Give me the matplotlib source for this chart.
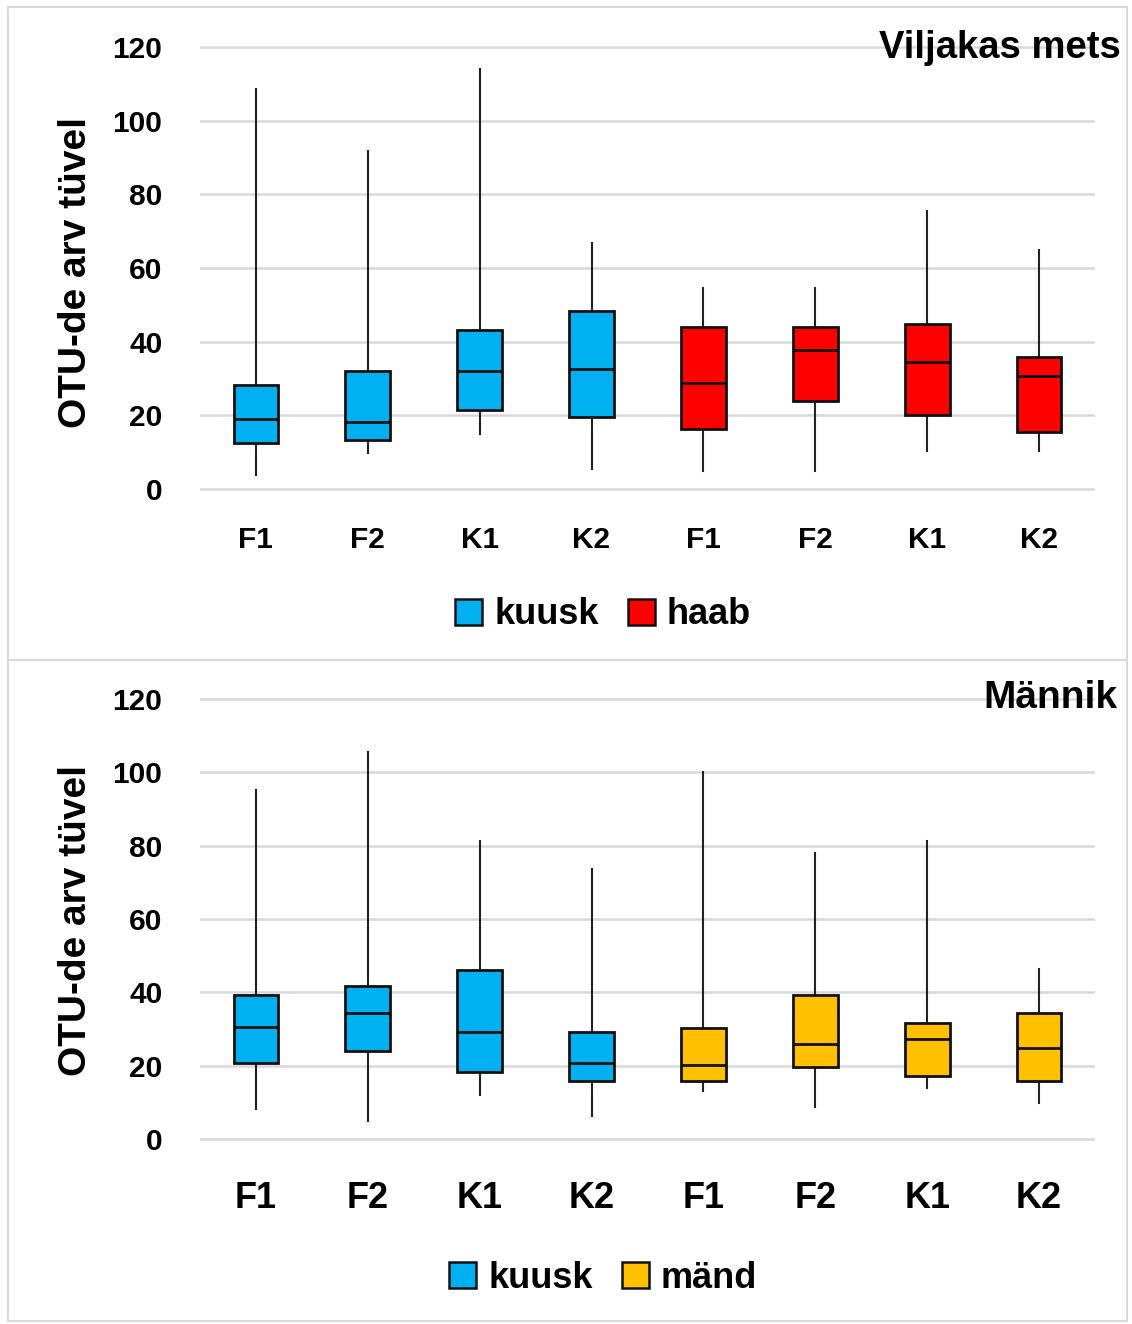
import matplotlib
matplotlib.use("Agg")
import matplotlib.pyplot as plt
from matplotlib.patches import Patch, Rectangle

# ---------------- data ----------------
categories = ["F1", "F2", "K1", "K2", "F1", "F2", "K1", "K2"]

# Top panel: Viljakas mets (kuusk: first 4, haab: last 4)
top_whislo = [3.7, 9.8, 14.8, 5.3, 4.8, 4.8, 10.4, 10.4]
top_q1     = [12.4, 13.2, 21.4, 19.5, 16.3, 23.8, 20.0, 15.6]
top_med    = [18.9, 18.1, 32.1, 32.7, 28.9, 37.7, 34.6, 30.8]
top_q3     = [28.2, 32.1, 43.3, 48.3, 44.1, 44.1, 44.7, 35.8]
top_whishi = [108.7, 91.9, 113.9, 66.9, 54.7, 54.7, 75.6, 65.0]

# Bottom panel: Männik (kuusk: first 4, mänd: last 4)
bot_whislo = [8.1, 4.9, 11.9, 6.3, 13.1, 8.8, 13.8, 9.9]
bot_q1     = [20.8, 24.1, 18.4, 15.9, 15.8, 19.7, 17.1, 15.8]
bot_med    = [30.5, 34.3, 29.3, 20.8, 20.3, 25.9, 27.4, 24.7]
bot_q3     = [39.3, 41.8, 46.1, 29.1, 30.4, 39.3, 31.7, 34.3]
bot_whishi = [95.2, 105.6, 81.3, 73.7, 100.1, 78.0, 81.3, 46.4]

top_title = "Viljakas mets"
bot_title = "Männik"
top_series = ["kuusk", "haab"]
bot_series = ["kuusk", "mänd"]
yticks = [0, 20, 40, 60, 80, 100, 120]
ylabel = "OTU-de arv tüvel"

C_BLUE = "#00B0F0"
C_RED = "#FF0000"
C_GOLD = "#FFC000"
GRID = "#D9D9D9"

W, H = 1132, 1324
fig = plt.figure(figsize=(W / 100, H / 100), dpi=100)
fig.patch.set_facecolor("white")

BOLD = ["Liberation Sans", "DejaVu Sans"]


def fx(px):
    return px / W


def fy(py):
    return 1 - py / H


# panel borders
for (y0, y1) in [(7, 660), (660, 1321)]:
    fig.patches.append(Rectangle((fx(8), fy(y1)), fx(1127) - fx(8), fy(y0) - fy(y1),
                                 transform=fig.transFigure, fill=False,
                                 edgecolor="#D9D9D9", linewidth=1.5, zorder=0))


def make_panel(rect, whislo, q1, med, q3, whishi, colors, title, title_xy, title_fs,
               series, series_colors, legend_xy, xfs, xpad, ylabel_y):
    ax = fig.add_axes(rect)
    stats = []
    for i in range(len(categories)):
        stats.append(dict(med=med[i], q1=q1[i], q3=q3[i], whislo=whislo[i],
                          whishi=whishi[i], fliers=[]))
    pos = list(range(len(categories)))
    bp = ax.bxp(stats, positions=pos, widths=0.40, patch_artist=True,
                showcaps=False, showfliers=False,
                boxprops=dict(linewidth=2.0, edgecolor="#111111"),
                medianprops=dict(color="#111111", linewidth=2.0),
                whiskerprops=dict(color="#222222", linewidth=1.5))
    for b, c in zip(bp["boxes"], colors):
        b.set_facecolor(c)
        b.set_zorder(3)
    for w in bp["whiskers"]:
        w.set_zorder(2)
    for m in bp["medians"]:
        m.set_zorder(4)
    ax.set_xlim(-0.5, len(categories) - 0.5)
    ax.set_ylim(-0.5, 120.5)
    ax.set_yticks(yticks)
    ax.set_yticklabels([str(t) for t in yticks], family=BOLD, weight="bold", fontsize=21.5)
    ax.set_xticks(pos)
    ax.set_xticklabels(categories, family=BOLD, weight="bold", fontsize=xfs)
    ax.tick_params(axis="y", length=0, pad=27)
    ax.tick_params(axis="x", length=0, pad=xpad)
    for s in ax.spines.values():
        s.set_visible(False)
    ax.yaxis.grid(True, color=GRID, linewidth=1.8)
    ax.set_axisbelow(True)
    fig.text(fx(title_xy[0]), fy(title_xy[1]), title, family=BOLD, weight="bold",
             fontsize=title_fs, ha="right", va="center")
    fig.text(fx(76), fy(ylabel_y), ylabel, family=BOLD, weight="bold", fontsize=28,
             rotation=90, ha="center", va="center")
    handles = [Patch(facecolor=c, edgecolor="#111111", linewidth=1.8, label=s)
               for s, c in zip(series, series_colors)]
    fig.legend(handles=handles, loc="center", bbox_to_anchor=(fx(legend_xy[0]), fy(legend_xy[1])),
               ncol=2, frameon=False, prop=dict(family=BOLD, weight="bold", size=26),
               handlelength=0.75, handleheight=0.75, handletextpad=0.33, columnspacing=0.8,
               borderpad=0.1)
    return ax


# top panel: 0 -> 489 px, 120 -> 47 px
ppu = (489 - 47) / 120
top_rect = [fx(200), fy(489 + 0.5 * ppu), fx(1095) - fx(200), (442 + ppu) / H]
make_panel(top_rect, top_whislo, top_q1, top_med, top_q3, top_whishi,
           [C_BLUE] * 4 + [C_RED] * 4, top_title, (1121, 48), 27.5,
           top_series, [C_BLUE, C_RED], (603, 615), 21.5, 25, 272)

ppu2 = (1139 - 699) / 120
bot_rect = [fx(200), fy(1139 + 0.5 * ppu2), fx(1095) - fx(200), (440 + ppu2) / H]
make_panel(bot_rect, bot_whislo, bot_q1, bot_med, bot_q3, bot_whishi,
           [C_BLUE] * 4 + [C_GOLD] * 4, bot_title, (1118, 698), 28,
           bot_series, [C_BLUE, C_GOLD], (603, 1278), 26, 29, 921)

fig.savefig("out.png", dpi=100, facecolor="white")
